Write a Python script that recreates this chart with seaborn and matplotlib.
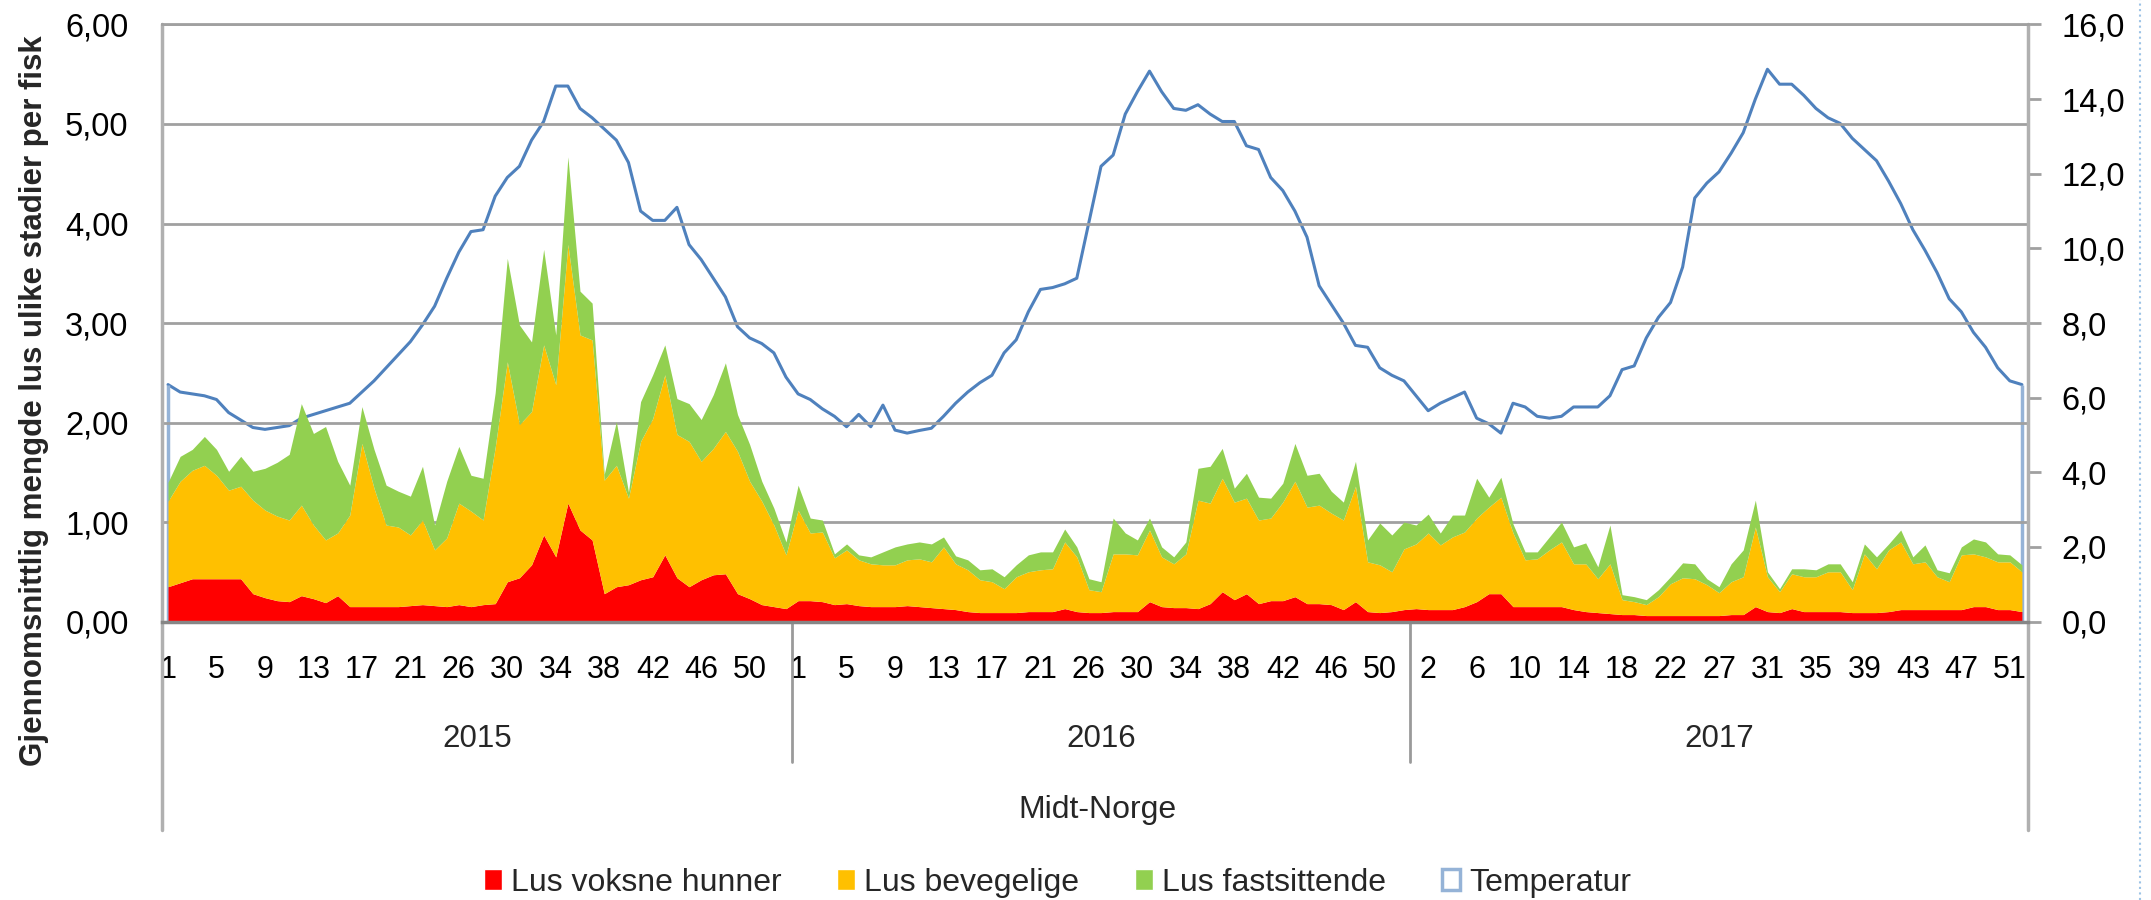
import numpy as np
import matplotlib
matplotlib.use("Agg")
import matplotlib.pyplot as plt
from matplotlib.patches import Patch
from matplotlib.lines import Line2D
import seaborn as sns

# Oppsett
sns.set_theme(style="white")
plt.rcParams["font.family"] = ["Liberation Sans", "DejaVu Sans"]

# 1. Data (lest av figuren), uke for uke per år
aar = ["2015", "2016", "2017"]
uker_2015 = list(range(1, 22)) + list(range(23, 54))
uker_2016 = list(range(1, 22)) + list(range(23, 53))
uker_2017 = list(range(1, 23)) + list(range(24, 53))

hunner_2015 = [0.35, 0.39, 0.43, 0.43, 0.43, 0.43, 0.43, 0.28, 0.24, 0.21, 0.20, 0.26, 0.23, 0.19, 0.26, 0.15, 0.15, 0.15, 0.15, 0.15, 0.16, 0.17, 0.16, 0.15, 0.17, 0.15,
               0.17, 0.18, 0.40, 0.44, 0.57, 0.87, 0.65, 1.19, 0.92, 0.82, 0.28, 0.35, 0.37, 0.42, 0.45, 0.67, 0.44, 0.35, 0.42, 0.47, 0.48, 0.28, 0.23, 0.17, 0.15, 0.13]
bevegelige_2015 = [0.86, 1.02, 1.09, 1.14, 1.04, 0.89, 0.93, 0.94, 0.88, 0.85, 0.82, 0.91, 0.74, 0.63, 0.63, 0.92, 1.64, 1.19, 0.82, 0.80, 0.71, 0.85, 0.56, 0.69, 1.02, 0.96,
                   0.85, 1.57, 2.21, 1.54, 1.54, 1.91, 1.73, 2.60, 1.96, 2.01, 1.14, 1.22, 0.87, 1.39, 1.59, 1.81, 1.44, 1.46, 1.19, 1.27, 1.43, 1.43, 1.18, 1.04, 0.82, 0.54]
fastsittende_2015 = [0.19, 0.25, 0.21, 0.29, 0.26, 0.19, 0.30, 0.29, 0.42, 0.54, 0.66, 1.02, 0.92, 1.14, 0.72, 0.30, 0.37, 0.39, 0.40, 0.36, 0.39, 0.54, 0.25, 0.57, 0.57, 0.36,
                     0.42, 0.55, 1.04, 1.00, 0.70, 0.96, 0.50, 0.88, 0.44, 0.37, 0.06, 0.44, 0.06, 0.40, 0.44, 0.30, 0.36, 0.38, 0.42, 0.54, 0.69, 0.37, 0.37, 0.20, 0.17, 0.13]
temp_2015 = [6.35, 6.15, 6.1, 6.05, 5.95, 5.6, 5.4, 5.2, 5.15, 5.2, 5.25, 5.45, 5.55, 5.65, 5.75, 5.85, 6.15, 6.45, 6.8, 7.15,
             7.5, 7.95, 8.45, 9.2, 9.9, 10.45, 10.5, 11.4, 11.9, 12.2, 12.9, 13.4, 14.35, 14.35, 13.75, 13.5, 13.2, 12.9, 12.3, 11.0,
             10.75, 10.75, 11.1, 10.1, 9.7, 9.2, 8.7, 7.9, 7.6, 7.45, 7.2, 6.55]

hunner_2016 = [0.21, 0.21, 0.20, 0.17, 0.18, 0.16, 0.15, 0.15, 0.15, 0.16, 0.15, 0.14, 0.13, 0.12, 0.10, 0.09, 0.09, 0.09, 0.09, 0.10, 0.10, 0.10, 0.13, 0.10, 0.09, 0.09,
               0.10, 0.10, 0.10, 0.20, 0.15, 0.14, 0.14, 0.13, 0.18, 0.30, 0.22, 0.28, 0.18, 0.21, 0.21, 0.25, 0.18, 0.18, 0.17, 0.12, 0.20, 0.10, 0.09, 0.10, 0.12]
bevegelige_2016 = [0.91, 0.68, 0.70, 0.47, 0.54, 0.46, 0.43, 0.42, 0.42, 0.46, 0.48, 0.46, 0.62, 0.46, 0.42, 0.33, 0.31, 0.24, 0.36, 0.40, 0.42, 0.43, 0.67, 0.55, 0.23, 0.21,
                   0.58, 0.58, 0.57, 0.72, 0.50, 0.44, 0.54, 1.09, 1.01, 1.14, 0.98, 0.96, 0.84, 0.83, 0.99, 1.16, 0.97, 0.99, 0.92, 0.90, 1.16, 0.50, 0.48, 0.40, 0.61]
fastsittende_2016 = [0.25, 0.15, 0.12, 0.04, 0.06, 0.05, 0.07, 0.13, 0.18, 0.16, 0.17, 0.18, 0.10, 0.08, 0.10, 0.10, 0.13, 0.12, 0.12, 0.17, 0.18, 0.17, 0.13, 0.10, 0.11, 0.10,
                     0.36, 0.21, 0.15, 0.12, 0.10, 0.07, 0.12, 0.32, 0.37, 0.30, 0.14, 0.25, 0.23, 0.20, 0.19, 0.38, 0.32, 0.32, 0.22, 0.18, 0.25, 0.22, 0.42, 0.37, 0.27]
temp_2016 = [6.1, 5.95, 5.7, 5.5, 5.22, 5.55, 5.22, 5.8, 5.13, 5.05, 5.12, 5.18, 5.5, 5.85, 6.15, 6.4, 6.6, 7.2, 7.55, 8.3,
             8.9, 8.95, 9.05, 9.2, 10.7, 12.2, 12.5, 13.6, 14.2, 14.75, 14.2, 13.75, 13.7, 13.85, 13.6, 13.4, 13.4, 12.75, 12.65, 11.9,
             11.55, 11.0, 10.3, 9.0, 8.5, 8.0, 7.4, 7.35, 6.8, 6.6, 6.45]

hunner_2017 = [0.13, 0.12, 0.12, 0.12, 0.15, 0.20, 0.28, 0.28, 0.15, 0.15, 0.15, 0.15, 0.15, 0.12, 0.10, 0.09, 0.08, 0.07, 0.07, 0.06, 0.06, 0.06, 0.06, 0.06, 0.06, 0.06,
               0.07, 0.07, 0.15, 0.10, 0.09, 0.13, 0.10, 0.10, 0.10, 0.10, 0.09, 0.09, 0.09, 0.10, 0.12, 0.12, 0.12, 0.12, 0.12, 0.12, 0.15, 0.15, 0.12, 0.12, 0.10]
bevegelige_2017 = [0.65, 0.77, 0.65, 0.73, 0.75, 0.84, 0.87, 0.97, 0.74, 0.47, 0.48, 0.57, 0.65, 0.46, 0.48, 0.34, 0.50, 0.15, 0.13, 0.11, 0.19, 0.32, 0.38, 0.37, 0.31, 0.23,
                   0.33, 0.38, 0.80, 0.35, 0.21, 0.35, 0.35, 0.35, 0.40, 0.40, 0.23, 0.59, 0.44, 0.62, 0.68, 0.46, 0.48, 0.33, 0.28, 0.55, 0.53, 0.50, 0.48, 0.48, 0.40]
fastsittende_2017 = [0.19, 0.19, 0.12, 0.22, 0.17, 0.40, 0.10, 0.20, 0.09, 0.08, 0.07, 0.13, 0.20, 0.17, 0.21, 0.12, 0.39, 0.05, 0.05, 0.05, 0.07, 0.07, 0.15, 0.15, 0.06, 0.06,
                     0.18, 0.27, 0.27, 0.05, 0.03, 0.05, 0.08, 0.07, 0.08, 0.08, 0.08, 0.10, 0.12, 0.06, 0.12, 0.07, 0.17, 0.07, 0.09, 0.08, 0.15, 0.15, 0.08, 0.07, 0.07]
temp_2017 = [6.05, 5.65, 5.85, 6.0, 6.15, 5.45, 5.3, 5.05, 5.85, 5.75, 5.5, 5.45, 5.5, 5.75, 5.75, 5.75, 6.05, 6.75, 6.85, 7.6,
             8.15, 8.55, 9.5, 11.35, 11.75, 12.05, 12.55, 13.1, 14.0, 14.8, 14.4, 14.4, 14.1, 13.75, 13.5, 13.35, 12.95, 12.65, 12.35, 11.8,
             11.2, 10.5, 9.95, 9.35, 8.65, 8.3, 7.75, 7.35, 6.8, 6.45, 6.35]

# 2. Sett sammen seriene
uker = uker_2015 + uker_2016 + uker_2017
hunner = np.array(hunner_2015 + hunner_2016 + hunner_2017)
bevegelige = np.array(bevegelige_2015 + bevegelige_2016 + bevegelige_2017)
fastsittende = np.array(fastsittende_2015 + fastsittende_2016 + fastsittende_2017)
temperatur = np.array(temp_2015 + temp_2016 + temp_2017)
x = np.arange(len(uker))
n_aar = [len(uker_2015), len(uker_2016), len(uker_2017)]
grenser = np.cumsum([0] + n_aar) - 0.5

farger = ["#ff0000", "#ffc000", "#92d050"]
blaa = "#4f81bd"
lysblaa = "#95b3d7"
graa = "#a0a0a0"

# 3. Figur
fig = plt.figure(figsize=(21.51, 9.0), dpi=100)
ax = fig.add_axes([0.0753, 0.3094, 0.8675, 0.6634])
ax2 = ax.twinx()
ax.set_zorder(2)
ax2.set_zorder(1)
ax.patch.set_visible(False)

ax.stackplot(x, hunner, bevegelige, fastsittende, colors=farger, linewidth=0)
sns.lineplot(x=x, y=temperatur, ax=ax2, color=blaa, linewidth=2.2)
ax2.vlines([x[0], x[-1]], 0, [temperatur[0], temperatur[-1]], color=lysblaa, linewidth=2.5)

ax.set_xlim(grenser[0], grenser[-1])
ax.set_ylim(0, 6)
ax2.set_ylim(0, 16)

# gitter og akser
ax.set_axisbelow(True)
ax.yaxis.grid(True, color=graa, linewidth=2)
ax.xaxis.grid(False)
for s in ["left", "right"]:
    ax.spines[s].set_visible(False)
ax.spines["top"].set_color(graa)
ax.spines["top"].set_linewidth(2)
ax.spines["bottom"].set_color("#868686")
ax.spines["bottom"].set_linewidth(2.5)
for s in ax2.spines.values():
    s.set_visible(False)

ax.set_yticks(range(0, 7))
ax.set_yticklabels([f"{v:.2f}".replace(".", ",") for v in range(0, 7)])
ax.tick_params(axis="y", left=False, length=0, pad=24, labelsize=23.5, labelcolor="black")
ax2.set_yticks(range(0, 17, 2))
ax2.set_yticklabels([f"{v:.1f}".replace(".", ",") for v in range(0, 17, 2)])
ax2.tick_params(axis="y", right=True, length=9, width=2, color=graa, direction="out",
                pad=15, labelsize=23.5, labelcolor="black")
ax.set_xticks(x[::4])
ax.set_xticklabels([str(u) for u in uker[::4]])
ax.tick_params(axis="x", bottom=False, length=0, pad=24, labelsize=22, labelcolor="black")
ax.set_ylabel("")
ax2.set_ylabel("")

# kategorilinjer og årstall
xtr = ax.get_xaxis_transform()
for g in [grenser[0], grenser[-1]]:
    ax.plot([g, g], [1, -0.349], transform=xtr, clip_on=False, color="#b0b0b0", linewidth=2.5)
for g in grenser[1:-1]:
    ax.plot([g, g], [0, -0.235], transform=xtr, clip_on=False, color="#9a9a9a", linewidth=2)
for i, a in enumerate(aar):
    ax.text((grenser[i] + grenser[i + 1]) / 2, -0.197, a, transform=xtr,
            ha="center", va="center", fontsize=22.5)

fig.text(1097 / 2151, 1 - 810 / 900, "Midt-Norge", ha="center", va="center", fontsize=23)
fig.text(34 / 2151, 1 - 401 / 900, "Gjennomsnittlig mengde lus ulike stadier per fisk",
         rotation=90, ha="center", va="center", fontsize=22.5, fontweight="bold")

# tegnforklaring
handles = [Patch(facecolor=farger[0]), Patch(facecolor=farger[1]), Patch(facecolor=farger[2]),
           Patch(facecolor="white", edgecolor=lysblaa, linewidth=2.5)]
labels = ["Lus voksne hunner", "Lus bevegelige", "Lus fastsittende", "Temperatur"]
fig.legend(handles, labels, loc="center", bbox_to_anchor=(0.4916, 0.019), ncol=4, frameon=False,
           fontsize=23, handlelength=0.56, handleheight=0.6, handletextpad=0.28, columnspacing=1.75)

fig.add_artist(Line2D([2140 / 2151] * 2, [0, 1], linestyle=":", color="#9dc3e6", linewidth=1.5))

fig.savefig("out.png", dpi=100)
